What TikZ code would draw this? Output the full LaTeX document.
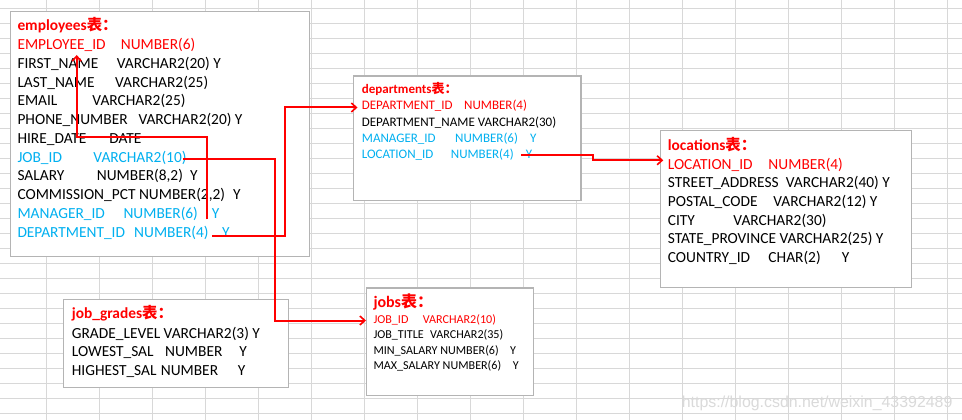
\documentclass[tikz,border=0pt]{standalone}
\usepackage{fontspec}
\setmainfont{Carlito}
\newfontfamily\cjk{Noto Sans CJK SC}
\newfontfamily\wmfont{Liberation Sans}
\usetikzlibrary{arrows.meta}
\definecolor{xred}{RGB}{255,0,0}
\definecolor{xblue}{RGB}{0,176,240}
\definecolor{gridc}{RGB}{216,216,216}
\definecolor{boxc}{RGB}{180,180,180}
\definecolor{wmc}{RGB}{218,218,218}
\newcommand\colat[2]{\makebox[#1pt][l]{#2}}
\begin{document}
\begin{tikzpicture}[x=1pt,y=-1pt,
  gridline/.style={draw=gridc,line width=1pt},
  tablebox/.style={draw=boxc,fill=white,line width=1.2pt},
  fk/.style={draw=xred,line width=2pt,-{Straight Barb[length=5pt,width=9pt,line width=1.6pt]}},
  big/.style={font=\fontsize{15.4}{18}\selectfont},
  mid/.style={font=\fontsize{13}{15}\selectfont},
  small/.style={font=\fontsize{12.1}{14}\selectfont},
  row/.style={anchor=base west,inner sep=0pt,text=black},
  pk/.style={text=xred},
  fkrow/.style={text=xblue},
  ttl/.style={anchor=base west,inner sep=0pt,text=xred},
]
\useasboundingbox (0,0) rectangle (962,420);
\fill[white] (0,0) rectangle (962,420);
% spreadsheet grid
\begin{scope}
\clip (0,0) rectangle (962,420);
\foreach \k in {0,...,17} \draw[gridline] ({46.7+53*\k},0) -- ({46.7+53*\k},420);
\foreach \k in {0,...,27} \draw[gridline] (0,{8.3+15*\k}) -- (962,{8.3+15*\k});
\end{scope}

% table boxes
\draw[tablebox] (10.7,11.7) rectangle (309.3,256.7);
\draw[tablebox] (353.3,76) rectangle (581,200.7);
\draw[tablebox] (660.7,130.7) rectangle (911.3,287.7);
\draw[tablebox] (63.3,299.3) rectangle (288.3,387.7);
\draw[tablebox] (366.7,288) rectangle (533.3,395.7);

% employees
\node[ttl,big] (et) at (17.3,31) {\textbf{employees}{\cjk\bfseries 表：}};
\node[row,big,pk] (e1) at (17.3,49.7) {\colat{103.4}{EMPLOYEE\_ID}NUMBER(6)};
\node[row,big] (e2) at (17.3,68.4) {\colat{99.4}{FIRST\_NAME}VARCHAR2(20) Y};
\node[row,big] (e3) at (17.3,87.2) {\colat{97.7}{LAST\_NAME}VARCHAR2(25)};
\node[row,big] (e4) at (17.3,105.9) {\colat{75}{EMAIL}VARCHAR2(25)};
\node[row,big] (e5) at (17.3,124.6) {\colat{121}{PHONE\_NUMBER}VARCHAR2(20) Y};
\node[row,big] (e6) at (17.3,143.4) {\colat{92}{HIRE\_DATE}DATE};
\node[row,big,fkrow] (e7) at (17.3,162.1) {\colat{76}{JOB\_ID}VARCHAR2(10)};
\node[row,big] (e8) at (17.3,180.8) {\colat{79.4}{SALARY}\colat{93.3}{NUMBER(8,2)}Y};
\node[row,big] (e9) at (17.3,199.5) {\colat{215.7}{COMMISSION\_PCT NUMBER(2,2)}Y};
\node[row,big,fkrow] (e10) at (17.3,218.3) {\colat{106}{MANAGER\_ID}\colat{88.4}{NUMBER(6)}Y};
\node[row,big,fkrow] (e11) at (17.3,237) {\colat{116.7}{DEPARTMENT\_ID}\colat{88}{NUMBER(4)}Y};

% departments
\node[ttl,mid] (dt) at (361.7,93) {\textbf{departments}{\cjk\bfseries 表：}};
\node[row,mid,pk] (d1) at (361.7,110) {\colat{102.3}{DEPARTMENT\_ID}NUMBER(4)};
\node[row,mid] (d2) at (361.7,126.3) {DEPARTMENT\_NAME VARCHAR2(30)};
\node[row,mid,fkrow] (d3) at (361.7,142.3) {\colat{93.3}{MANAGER\_ID}\colat{75}{NUMBER(6)}Y};
\node[row,mid,fkrow] (d4) at (361.7,158) {\colat{89}{LOCATION\_ID}\colat{75}{NUMBER(4)}Y};

% locations
\node[ttl,big] (lt) at (667.7,150) {\textbf{locations}{\cjk\bfseries 表：}};
\node[row,big,pk] (l1) at (667.7,169) {\colat{100.6}{LOCATION\_ID}NUMBER(4)};
\node[row,big] (l2) at (667.7,187.7) {\colat{118}{STREET\_ADDRESS}VARCHAR2(40) Y};
\node[row,big] (l3) at (667.7,206.4) {\colat{105.6}{POSTAL\_CODE}VARCHAR2(12) Y};
\node[row,big] (l4) at (667.7,225.1) {\colat{65.6}{CITY}VARCHAR2(30)};
\node[row,big] (l5) at (667.7,243.8) {STATE\_PROVINCE VARCHAR2(25) Y};
\node[row,big] (l6) at (667.7,262.5) {\colat{100.6}{COUNTRY\_ID}\colat{73.4}{CHAR(2)}Y};

% job_grades
\node[ttl,big] (gt) at (71.7,318.5) {\textbf{job\_grades}{\cjk\bfseries 表：}};
\node[row,big] (g1) at (71.7,338) {GRADE\_LEVEL VARCHAR2(3) Y};
\node[row,big] (g2) at (71.7,356.7) {\colat{93.3}{LOWEST\_SAL}\colat{74.3}{NUMBER}Y};
\node[row,big] (g3) at (71.7,375.4) {\colat{89}{HIGHEST\_SAL}\colat{77}{NUMBER}Y};

% jobs
\node[ttl,font=\fontsize{16}{19}\selectfont] (jt) at (373.3,307.5) {\textbf{jobs}{\cjk\bfseries 表：}};
\node[row,small,pk] (j1) at (373.3,323) {\colat{49.4}{JOB\_ID}VARCHAR2(10)};
\node[row,small] (j2) at (373.3,338.5) {\colat{56.7}{JOB\_TITLE}VARCHAR2(35)};
\node[row,small] (j3) at (373.3,354.3) {\colat{136.7}{MIN\_SALARY NUMBER(6)}Y};
\node[row,small] (j4) at (373.3,369.7) {\colat{139.4}{MAX\_SALARY NUMBER(6)}Y};

% connector end points
\coordinate (mgrS) at (206.7,219.3);
\coordinate (empT) at (76.7,55);
\coordinate (deptS) at (212.3,235.7);
\coordinate (deptT) at (357.5,107.5);
\coordinate (jobS) at (183,158.5);
\coordinate (jobT) at (366,320.5);
\coordinate (locS) at (521,155);
\coordinate (locT) at (663.3,160.3);

\draw[fk] (mgrS) -- ++(0,-82.6) -| (empT);
\draw[fk] (deptS) -- ++(73,0) |- (deptT);
\draw[fk] (jobS) -- ++(92,0) |- (jobT);
\draw[fk] (locS) -- ++(71.5,0) |- (locT);

% watermark
\node[anchor=base west,inner sep=0pt,text=wmc,font=\wmfont\fontsize{15.9}{18}\selectfont] (wm) at (681.7,407) {https://blog.csdn.net/weixin\_43392489};
\end{tikzpicture}
\end{document}
